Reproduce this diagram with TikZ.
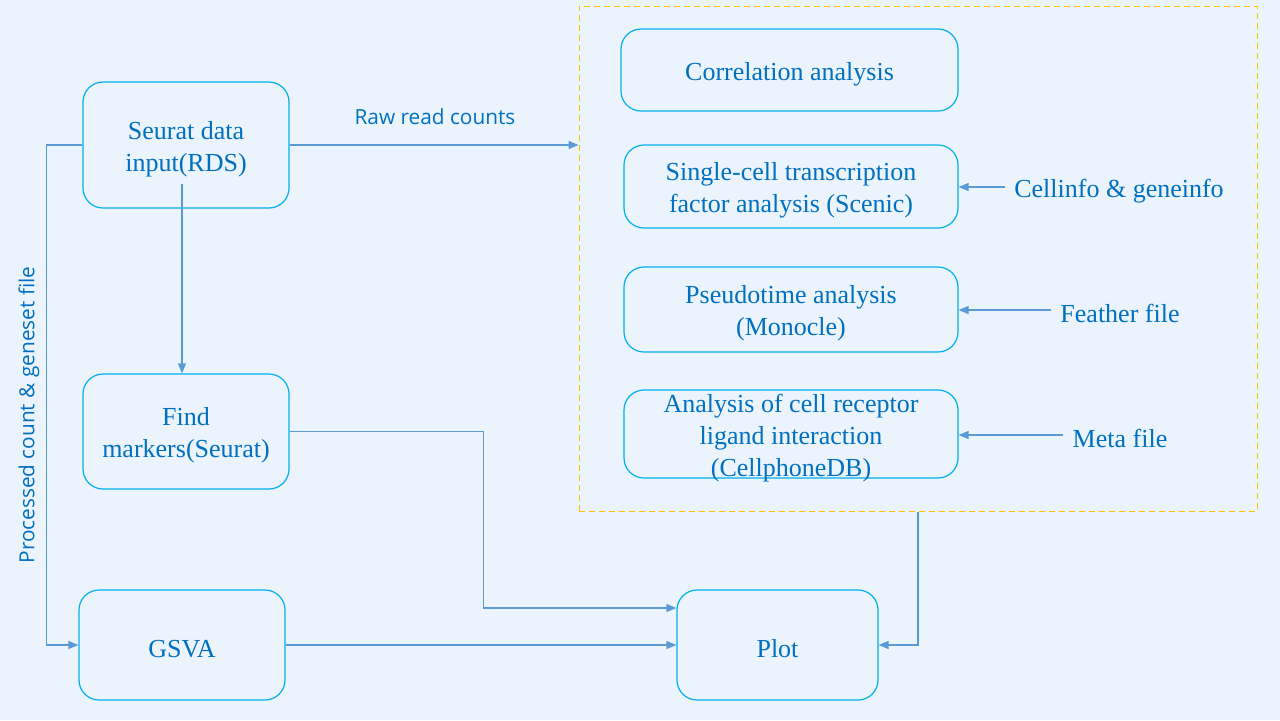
\documentclass[tikz,border=0pt]{standalone}
\usepackage{fontspec}
\setmainfont{Liberation Serif}
\setsansfont{Open Sans}
\usepackage{tikz}
\usetikzlibrary{calc,positioning,arrows.meta}
\definecolor{bgblue}{HTML}{EBF3FD}
\definecolor{txtblue}{HTML}{0070C0}
\definecolor{boxcyan}{HTML}{00B0F0}
\definecolor{lineblue}{HTML}{5B9BD5}
\definecolor{frameorange}{HTML}{FFC000}
\newcommand{\lowr}{\rule{0pt}{13pt}}

\begin{document}
\begin{tikzpicture}[x=0.5pt,y=-0.5pt,
	box/.style={draw=boxcyan,rounded corners=10pt,text=txtblue,align=center,inner sep=0pt,line width=0.6pt,font=\fontsize{13}{16}\selectfont},
	link/.style={draw=lineblue,line width=0.6pt,-{Triangle[length=5pt,width=4pt]}},
	lbl/.style={text=txtblue,font=\sffamily\fontsize{10.4}{12}\selectfont},
	side/.style={text=txtblue,inner sep=4.5pt,font=\fontsize{13}{16}\selectfont}]
		\fill[bgblue] (0,0) rectangle (1280,720);
		\useasboundingbox (0,0) rectangle (1280,720);
		% left column
		\node(1) [box,minimum width=103pt,minimum height=63pt] at (186,145) {\lowr Seurat data\\input(RDS)};
		\node(2) [box,minimum width=103pt,minimum height=57.5pt] at (186,431.5) {\lowr Find\\markers(Seurat)};
		\node(3) [box,minimum width=103pt,minimum height=55pt] at (182,645) {\lowr GSVA};
		\node(4) [box,minimum width=100.5pt,minimum height=55pt] at (777.5,645) {\lowr Plot};
		% dashed frame with the analyses
		\node(5) [draw=frameorange,dash pattern=on 3pt off 2pt,line width=0.5pt,minimum width=339pt,minimum height=252.5pt] at (918,258.5) {};
		\node(6) [box,minimum width=168.5pt,minimum height=41pt] at (789.5,70) {\lowr Correlation analysis};
		\node(7) [box,minimum width=167pt,minimum height=41.5pt] at (791,186.5) {\lowr Single-cell transcription\\factor analysis (Scenic)};
		\node(8) [box,minimum width=167pt,minimum height=42.5pt] at (791,309.5) {\lowr Pseudotime analysis\\(Monocle)};
		\node(9) [box,inner ysep=-2.2pt,minimum width=167pt,minimum height=44pt] at (791,434) {\lowr Analysis of cell receptor\\ligand interaction\\(CellphoneDB)};
		\node(10) [side] at (1119,187) {\lowr Cellinfo \& geneinfo};
		\node(11) [side] at (1120,310) {\lowr Feather file};
		\node(12) [side] at (1120,435) {\lowr Meta file};
		% labels
		\node(13) [lbl] at (435,117) {Raw read counts};
		\node(14) [lbl,rotate=90] at (29,415) {Processed count \& geneset file};
		% connectors
		\draw[link] (1.east) -- (1.east -| 5.west);
		\draw[link] ([xshift=-2pt,yshift=12.5pt]1.south) -- ([xshift=-2pt]2.north);
		\draw[link] (1.west) -- ++(-36,0) |- (3.west);
		\draw[link] (2.east) -- ++(194,0) |- ([yshift=18.5pt]4.west);
		\draw[link] (3.east) -- (4.west);
		\draw[link] (5.south) |- (4.east);
		\draw[link] (10.west) -- (10.west -| 7.east);
		\draw[link] (11.west) -- (11.west -| 8.east);
		\draw[link] (12.west) -- (12.west -| 9.east);
	\end{tikzpicture}
\end{document}
